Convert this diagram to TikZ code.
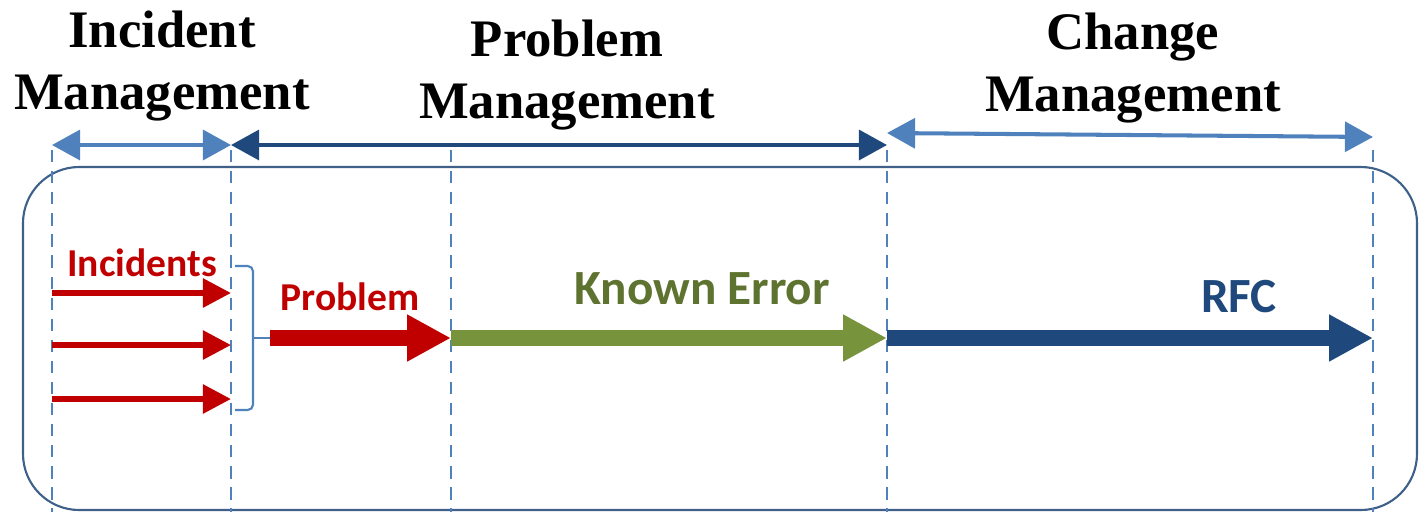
\documentclass[tikz,border=0pt]{standalone}
\usepackage{fontspec}
\setmainfont{Liberation Serif}
\newfontfamily\calibri{Carlito}
\usetikzlibrary{arrows.meta}
\definecolor{errred}{HTML}{C00000}
\definecolor{errgreen}{HTML}{77933C}
\definecolor{olivetext}{HTML}{5F7330}
\definecolor{darkblue}{HTML}{1F497D}
\definecolor{lightblue}{HTML}{4F81BD}
\definecolor{framecol}{HTML}{3E6089}
\tikzset{
  phase/.style={align=center,inner sep=0pt,font=\bfseries\fontsize{30}{35}\selectfont},
  tag/.style={inner sep=0pt,font=\calibri\bfseries\fontsize{28}{30}\selectfont},
  span/.style={line width=2.3pt,{Triangle[length=16pt,width=17pt]}-{Triangle[length=16pt,width=17pt]}},
  thin/.style={line width=3.2pt,errred,-{Triangle[length=16pt,width=16pt]}},
  thick/.style={line width=9pt,-{Triangle[length=25pt,width=25pt]}},
  guide/.style={lightblue,line width=1pt,dash pattern=on 7pt off 5pt}
}
\begin{document}
\begin{tikzpicture}[x=0.02cm,y=-0.02cm]
\useasboundingbox (0,0) rectangle (1421,512);
% frame round everything
\draw[framecol,line width=1.2pt,rounded corners=32pt] (23,167) rectangle (1417,510);
% the five phase borders
\foreach \px/\name in {52/a,231/b,451/c,887/d,1373/e}{
  \coordinate (top\name) at (\px,150);
  \coordinate (bot\name) at (\px,512);
  \draw[guide] (top\name) -- (bot\name);
}
% headings
\node[phase] (inc) at (162,66) {Incident\\Management};
\node[phase] (prb) at (567,75) {Problem\\Management};
\node[phase] (chg) at (1133,68) {Change\\Management};
% spans under the headings
\coordinate (s1) at (52,145); \coordinate (s2) at (231,145);
\coordinate (s3) at (887,145);
\coordinate (s4) at (887,133); \coordinate (s5) at (1373,137);
\draw[span,lightblue] (s1) -- (s2);
\draw[span,darkblue] (s2) -- (s3);
\draw[span,lightblue] (s4) -- (s5);
% incidents
\node[tag,errred,font=\calibri\bfseries\fontsize{22.5}{24}\selectfont] (incs) at (142,263) {Incidents};
\foreach \py/\name in {293/i1,345/i2,399/i3}{
  \coordinate (\name a) at (52,\py);
  \coordinate (\name b) at (231,\py);
  \draw[thin] (\name a) -- (\name b);
}
% brace
\coordinate (br) at (270,338);
\draw[lightblue,line width=1.2pt,rounded corners=3pt] (235,266) -- (253,266) -- (253,410) -- (235,410);
\draw[lightblue,line width=1.2pt] (253,338) -- (br);
% the chain
\coordinate (k1) at (451,338); \coordinate (k2) at (887,338); \coordinate (k3) at (1373,338);
\node[tag,errred,font=\calibri\bfseries\fontsize{22.5}{24}\selectfont] (prob) at (350,297) {Problem};
\node[tag,olivetext] (kerr) at (702,289) {Known Error};
\node[tag,darkblue] (rfc) at (1239,297) {RFC};
\draw[thick,errred] (br) -- (k1);
\draw[thick,errgreen] (k1) -- (k2);
\draw[thick,darkblue] (k2) -- (k3);
\end{tikzpicture}
\end{document}
